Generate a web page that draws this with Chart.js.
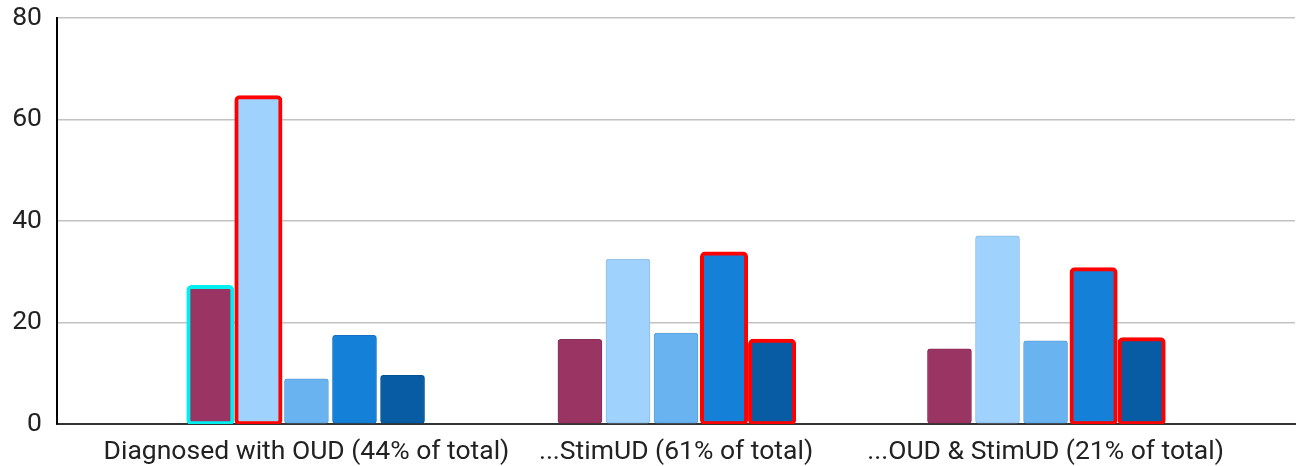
<!DOCTYPE html>
<html>
<head>
<meta charset="utf-8">
<script src="https://cdn.jsdelivr.net/npm/chart.js@4/dist/chart.umd.min.js"></script>
<style>
  html, body { margin: 0; padding: 0; background: #ffffff; }
  #wrap { width: 1305px; height: 466px; position: relative; }
</style>
</head>
<body>
<div id="wrap"><canvas id="c" width="1305" height="466"></canvas></div>
<script>
// ---- data ----
const categories = [
  "Diagnosed with OUD (44% of total)",
  "...StimUD (61% of total)",
  "...OUD & StimUD (21% of total)"
];
const series1 = [27.0, 16.7, 14.8];
const series2 = [64.4, 32.5, 37.1];
const series3 = [8.9, 17.9, 16.4];
const series4 = [17.5, 33.6, 30.5];
const series5 = [9.6, 16.4, 16.7];
const yTicks = [0, 20, 40, 60, 80];

// ---- styles ----
const fills = ["#993463", "#9fd2fd", "#69b3f0", "#1580d7", "#075ca3"];
const edges = ["#8a2f59", "#8fbde4", "#5fa1d8", "#1373c2", "#065393"];
// highlight outline per series, per category (null = none)
const outlines = [
  ["#00f0f0", null, null],
  ["#ff0000", null, null],
  [null, null, null],
  [null, "#ff0000", "#ff0000"],
  [null, "#ff0000", "#ff0000"]
];

const seriesValues = [series1, series2, series3, series4, series5];
const datasets = seriesValues.map((vals, s) => ({
  label: "Series " + (s + 1),
  data: vals,
  backgroundColor: fills[s],
  borderColor: ctx => outlines[s][ctx.dataIndex] || edges[s],
  borderWidth: ctx => outlines[s][ctx.dataIndex] ? 4 : 1,
  inflateAmount: ctx => outlines[s][ctx.dataIndex] ? 2 : 0.3,
  borderRadius: ctx => outlines[s][ctx.dataIndex] ? 5 : 3,
  borderSkipped: false,
  categoryPercentage: 0.65,
  barPercentage: 0.917
}));

const font = { family: "Roboto", size: 26.5 };

new Chart(document.getElementById("c"), {
  type: "bar",
  data: { labels: categories, datasets },
  options: {
    responsive: false,
    animation: false,
    devicePixelRatio: 1,
    layout: { padding: { left: 0, right: 10, top: 18, bottom: 0 } },
    plugins: { legend: { display: false }, tooltip: { enabled: false } },
    scales: {
      x: {
        z: 1,
        grid: { display: false, drawTicks: false },
        border: { display: true, color: "#333333", width: 2 },
        ticks: { color: "#222222", font, padding: 12, maxRotation: 0, autoSkip: false },
        afterBuildTicks: scale => {
          // equal gaps at the edges and between the groups
          scale._startValue = -0.675;
          scale._valueRange = 3.35;
        },
        afterFit: scale => { scale.height = 42; scale.paddingLeft = 0; scale.paddingRight = 0; }
      },
      y: {
        min: 0,
        max: 80,
        afterBuildTicks: scale => { scale.ticks = yTicks.map(v => ({ value: v })); },
        grid: { color: "#c2c2c2", lineWidth: 1.5, drawTicks: false },
        border: { display: true, color: "#000000", width: 2 },
        ticks: { color: "#222222", font, padding: 15 },
        afterFit: scale => { scale.width = 57; scale.paddingTop = 0; scale.paddingBottom = 0; }
      }
    }
  }
});
</script>
</body>
</html>
